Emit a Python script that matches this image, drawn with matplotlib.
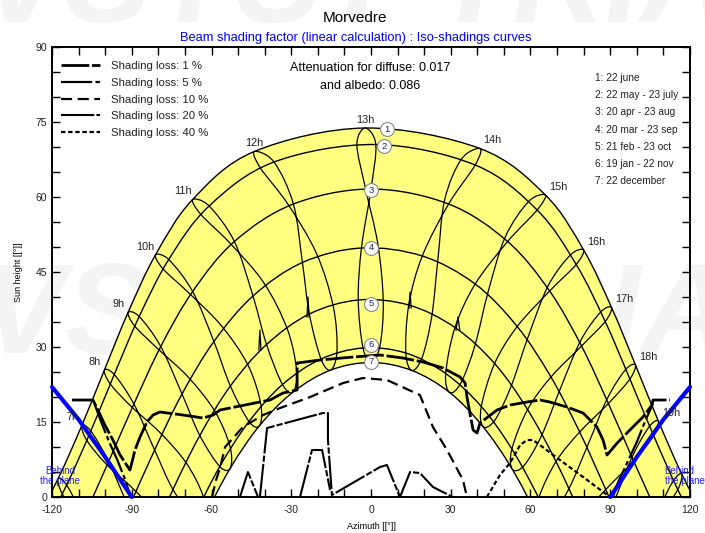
import matplotlib
matplotlib.use('Agg')
import matplotlib.pyplot as plt
import numpy as np
from matplotlib.path import Path
from matplotlib.patches import PathPatch
from matplotlib.lines import Line2D

plt.rcParams['font.family'] = ['Liberation Sans', 'DejaVu Sans']
plt.rcParams['axes.unicode_minus'] = False

# --- sun paths (legal time, lat 39.7 N) ---
date_names = ['22jun', '22may', '23jul', '20apr', '23aug', '20mar', '23sep',
              '21feb', '23oct', '19jan', '22nov', '22dec']
hours = [5, 6, 7, 8, 9, 10, 11, 12, 13, 14, 15, 16, 17, 18, 19, 20]
sun_az = [
    [-127.5, -124.3, -126.2, -118.6, -119.8, -111.6, -109.3, -103.9, -98.5, -93.8, -90.6, -88.9],
    [-117.7, -114.5, -116.2, -108.2, -109.3, -100.8, -98.9, -93.4, -88.6, -84.4, -81.4, -80.0],
    [-108.8, -105.4, -107.0, -98.7, -99.8, -91.1, -89.2, -83.9, -79.2, -75.5, -72.5, -71.5],
    [-100.3, -96.6, -98.2, -89.2, -90.4, -81.4, -79.4, -74.5, -69.5, -66.6, -63.3, -62.6],
    [-91.4, -87.2, -88.9, -79.1, -80.3, -71.1, -68.8, -64.4, -58.8, -56.9, -53.1, -52.9],
    [-81.1, -76.1, -78.2, -67.1, -68.5, -59.1, -56.2, -52.9, -46.3, -45.9, -41.5, -41.9],
    [-67.1, -60.9, -64.0, -51.4, -53.1, -44.4, -40.4, -39.3, -31.5, -33.3, -28.0, -29.3],
    [-43.9, -36.5, -41.6, -29.2, -31.3, -25.8, -20.5, -23.2, -14.2, -18.8, -12.8, -15.1],
    [-2.2, 1.8, -5.3, -0.0, -2.2, -3.6, 2.6, -4.8, 4.6, -3.0, 3.4, 0.2],
    [41.0, 39.2, 33.9, 29.2, 27.7, 19.3, 25.2, 14.2, 22.9, 13.1, 19.3, 15.4],
    [65.6, 62.5, 59.3, 51.4, 50.5, 39.2, 44.1, 31.6, 39.1, 28.1, 33.8, 29.6],
    [80.0, 77.2, 75.0, 67.2, 66.6, 55.0, 59.1, 46.5, 52.6, 41.5, 46.5, 42.1],
    [90.5, 88.1, 86.4, 79.2, 78.8, 67.7, 71.1, 58.9, 64.1, 53.0, 57.4, 53.1],
    [99.5, 97.4, 95.8, 89.3, 88.9, 78.5, 81.5, 69.6, 74.2, 63.1, 67.2, 62.8],
    [108.1, 106.3, 104.7, 98.8, 98.4, 88.3, 91.2, 79.3, 83.6, 72.3, 76.1, 71.6],
    [116.9, 115.4, 113.7, 108.3, 107.8, 97.9, 100.9, 88.8, 93.1, 81.2, 85.0, 80.2],
]
sun_h = [
    [-6.1, -7.7, -9.2, -14.8, -14.9, -24.7, -21.2, -32.8, -27.2, -37.9, -33.0, -37.2],
    [3.7, 2.4, 0.7, -4.1, -4.5, -13.6, -10.0, -21.4, -15.7, -26.3, -21.5, -25.7],
    [14.3, 13.2, 11.4, 7.1, 6.7, -2.1, 1.5, -9.8, -4.2, -15.0, -10.3, -14.6],
    [25.4, 24.5, 22.7, 18.6, 18.2, 9.4, 12.9, 1.5, 6.8, -4.1, 0.4, -4.0],
    [36.9, 36.1, 34.2, 30.1, 29.7, 20.6, 24.0, 12.3, 17.2, 6.1, 10.2, 5.8],
    [48.4, 47.5, 45.6, 41.1, 40.8, 31.1, 34.2, 22.2, 26.4, 15.1, 18.7, 14.3],
    [59.5, 58.2, 56.5, 51.1, 50.8, 40.2, 42.9, 30.5, 33.6, 22.5, 25.3, 21.0],
    [69.1, 67.0, 65.8, 58.6, 58.6, 46.9, 48.7, 36.6, 38.1, 27.6, 29.3, 25.4],
    [73.8, 70.5, 70.5, 61.6, 62.0, 49.8, 50.5, 39.4, 39.1, 29.8, 30.3, 26.9],
    [69.7, 66.4, 67.5, 58.6, 59.4, 48.2, 47.7, 38.4, 36.3, 28.8, 28.0, 25.3],
    [60.4, 57.4, 59.1, 51.1, 52.0, 42.6, 41.1, 33.9, 30.3, 24.7, 22.8, 20.9],
    [49.4, 46.5, 48.4, 41.2, 42.2, 34.1, 32.0, 26.7, 22.0, 18.1, 15.3, 14.1],
    [37.9, 35.1, 37.0, 30.2, 31.2, 24.0, 21.5, 17.5, 12.2, 9.6, 6.2, 5.6],
    [26.4, 23.6, 25.5, 18.7, 19.7, 13.0, 10.3, 7.1, 1.4, -0.2, -4.0, -4.2],
    [15.2, 12.3, 14.1, 7.2, 8.2, 1.5, -1.2, -4.0, -10.0, -10.8, -14.9, -14.8],
    [4.6, 1.5, 3.2, -4.0, -3.1, -10.0, -12.7, -15.4, -21.5, -22.1, -26.3, -26.0],
]
# 21h points (below horizon) for the two longest days
late_az = {'22jun': 126.6, '22may': 125.1}
late_h = {'22jun': -5.2, '22may': -8.6}

curve_dates = ['22jun', '22may', '20apr', '20mar', '21feb', '19jan', '22dec']
loop_order = ['22jun', '23jul', '23aug', '23sep', '23oct', '22nov', '22dec',
              '19jan', '21feb', '20mar', '20apr', '22may']
label_hours = [7, 8, 9, 10, 11, 12, 13, 14, 15, 16, 17, 18, 19]
date_legend = ['1: 22 june', '2: 22 may - 23 july', '3: 20 apr - 23 aug',
               '4: 20 mar - 23 sep', '5: 21 feb - 23 oct', '6: 19 jan - 22 nov',
               '7: 22 december']
marker_az = [6.0, 5.0, 0.0, 0.0, 0.0, 0.0, 0.0]
marker_h = [73.6, 70.2, 61.4, 49.9, 38.7, 30.5, 27.1]

# --- iso-shading curves (azimuth, height) ---
loss1_az = [-112.5, -104.6, -103.1, -100.1, -97.1, -94.4, -90.7, -89.9, -88.8, -86.9, -84.3,
            -82.0, -79.4, -70.7, -63.2, -59.4, -56.8, -41.8, -38.0, -33.1, -27.8, -27.8,
            -19.2, -6.8, 3.4, 12.0, 19.6, 27.1, 33.5, 35.4, 36.1, 37.2, 38.4, 39.9, 41.0,
            47.4, 52.3, 58.7, 63.6, 67.3, 73.7, 79.8, 85.0, 87.3, 88.8, 92.6, 97.4, 102.3,
            105.7, 106.1, 112.5]
loss1_h = [19.4, 19.4, 17.8, 14.4, 11.4, 8.4, 5.4, 7.0, 9.4, 12.0, 15.0,
           16.4, 17.0, 16.4, 15.8, 16.4, 17.4, 19.0, 19.4, 20.8, 21.4, 26.8,
           27.4, 28.0, 28.4, 27.8, 27.0, 25.8, 24.0, 22.8, 20.0, 16.8, 13.4, 12.8, 14.8,
           17.4, 18.4, 19.0, 19.4, 19.0, 18.0, 16.8, 14.0, 11.4, 8.4, 10.8, 13.4, 16.0,
           18.4, 19.4, 19.4]
loss5_az = [-104.0, -101.5, -98.5, -95.5, -92.5, -90.5, np.nan, 91.0, 93.0, 96.5, 100.0, 103.0, 106.0]
loss5_h = [18.6, 15.0, 11.0, 7.5, 3.5, 0.0, np.nan, 0.0, 3.0, 7.0, 11.0, 15.0, 18.6]
loss10_az = [-59.8, -58.3, -56.8, -54.9, -48.2, -40.6, -34.2, -22.9, -10.5, -3.0, 6.0,
             18.4, 20.7, 23.3, 28.6, 34.6, 36.1]
loss10_h = [0.0, 3.4, 5.8, 10.0, 14.0, 16.4, 17.8, 20.0, 22.8, 23.8, 23.4,
            20.4, 17.4, 14.0, 9.4, 3.4, 0.0]
loss20_az = [-49.3, -46.3, -42.5, np.nan, -41.8, -39.1, -18.1, -16.2, -16.2, -14.7, 3.4, 6.0,
             10.9, 14.7, 18.4, 23.3, 30.8, np.nan, -26.7, -22.2, -18.4, -15.4]
loss20_h = [0.0, 5.0, 0.0, np.nan, 0.0, 13.8, 16.8, 16.8, 11.4, 0.4, 6.0, 6.4,
            0.0, 5.0, 4.8, 2.0, 0.0, np.nan, 0.0, 9.4, 9.4, 1.4]
loss40_az = [43.6, 48.5, 52.3, 56.1, 58.7, 61.0, 71.1, 79.8, 89.9]
loss40_h = [0.0, 4.4, 6.8, 10.4, 11.4, 11.4, 7.4, 4.0, 0.0]
# narrow spikes inside the sun area
spike_az = [-42.2, -41.8, -41.4, np.nan, -24.1, -23.7, -23.3, np.nan,
            14.3, 14.7, 15.1, np.nan, 32.0, 32.7, 33.4]
spike_h = [29.4, 33.4, 29.4, np.nan, 36.0, 40.0, 36.0, np.nan,
           37.8, 41.0, 37.8, np.nan, 33.4, 36.0, 33.4]
loss_labels = ['Shading loss: 1 %', 'Shading loss: 5 %', 'Shading loss: 10 %',
               'Shading loss: 20 %', 'Shading loss: 40 %']

behind_az = [-120, -110, -100, -90]
behind_h = [22.0, 15.5, 8.0, 0.0]

AZ = np.array(sun_az)
HH = np.array(sun_h)


def bezier(pts, closed=False):
    pts = np.asarray(pts, float)
    n = len(pts)
    if closed:
        ext = np.vstack([pts[-1], pts, pts[0], pts[1]])
        nseg = n
    else:
        ext = np.vstack([2 * pts[0] - pts[1], pts, 2 * pts[-1] - pts[-2]])
        nseg = n - 1
    verts = [pts[0]]
    for i in range(nseg):
        p0, p1, p2, p3 = ext[i:i + 4]
        verts += [p1 + (p2 - p0) / 6, p2 - (p3 - p1) / 6, p2]
    return np.array(verts)


def date_points(name):
    j = date_names.index(name)
    pts = list(zip(AZ[:, j], HH[:, j]))
    if name in late_az:
        pts.append((late_az[name], late_h[name]))
    return pts


fig = plt.figure(figsize=(7.05, 5.33), dpi=100)
ax = fig.add_axes([0.0738, 0.0675, 0.9049, 0.8443])
ax.set_xlim(-120, 120)
ax.set_ylim(0, 90)
ax.patch.set_alpha(0)

# trial watermark, behind the axes
for yw in (0.40, 1.02):
    fig.text(0.5, yw, 'PVSYST TRIAL', fontsize=92, fontweight='bold', style='italic',
             color='#f4f4f4', ha='center', va='center', zorder=-5)

# yellow area between 22 june and 22 december
top = bezier(date_points('22jun'))
bot = bezier(date_points('22dec'))[::-1]
verts = np.vstack([top, bot, top[:1]])
codes = ([Path.MOVETO] + [Path.CURVE4] * (len(top) - 1) + [Path.LINETO]
         + [Path.CURVE4] * (len(bot) - 1) + [Path.CLOSEPOLY])
ax.add_patch(PathPatch(Path(verts, codes), facecolor='#ffff80', edgecolor='none', zorder=1))

# date curves
for name in curve_dates:
    v = bezier(date_points(name))
    c = [Path.MOVETO] + [Path.CURVE4] * (len(v) - 1)
    ax.add_patch(PathPatch(Path(v, c), fill=False, edgecolor='black', lw=1.0, zorder=2))

# hour loops
for i, hr in enumerate(hours):
    if hr < 6:
        continue
    idx = [date_names.index(n) for n in loop_order]
    v = bezier(list(zip(AZ[i, idx], HH[i, idx])), closed=True)
    c = [Path.MOVETO] + [Path.CURVE4] * (len(v) - 1)
    ax.add_patch(PathPatch(Path(v, c), fill=False, edgecolor='black', lw=0.9, zorder=2))

# hour labels on the 22 june curve
j0 = date_names.index('22jun')
for hr in label_hours:
    i = hours.index(hr)
    a, h = AZ[i, j0], HH[i, j0]
    dx = -7 if hr < 12 else (0 if hr < 14 else 9)
    ax.annotate(f'{hr}h', (a, h), xytext=(dx, 6), textcoords='offset points',
                ha='center', va='center', fontsize=7.8, color='#222222', zorder=6)

# iso-shading curves
styles = [dict(lw=2.0, dashes=(10, 1.0)),
          dict(lw=1.6, dashes=(14, 1.5, 2, 1.5)),
          dict(lw=1.6, dashes=(5, 2.5)),
          dict(lw=1.5, dashes=(16, 1, 3, 1)),
          dict(lw=1.6, dashes=(2, 1.2))]
series = [(loss1_az, loss1_h), (loss5_az, loss5_h), (loss10_az, loss10_h),
          (loss20_az, loss20_h), (loss40_az, loss40_h)]
for (a, h), st in zip(series, styles):
    ax.plot(a, h, color='black', zorder=3, **st)
ax.plot(spike_az, spike_h, color='black', lw=0.9, zorder=3)

# behind the plane
ax.plot(behind_az, behind_h, color='#0000ff', lw=3, solid_capstyle='round', zorder=4, clip_on=False)
ax.plot([-x for x in behind_az], behind_h, color='#0000ff', lw=3, solid_capstyle='round',
        zorder=4, clip_on=False)
ax.text(-117, 4.2, 'Behind\nthe plane', color='#2020ff', fontsize=7, ha='center',
        va='center', linespacing=1.0, zorder=5, clip_on=False)
ax.text(110.5, 4.2, 'Behind\nthe plane', color='#2020ff', fontsize=7, ha='left',
        va='center', linespacing=1.0, zorder=5, clip_on=False)

# date markers
for k, (a, h) in enumerate(zip(marker_az, marker_h)):
    ax.plot(a, h, 'o', ms=10, mfc='white', mec='#888888', mew=0.8, zorder=6)
    ax.text(a, h, str(k + 1), fontsize=6.8, color='#1f2a6b', ha='center', va='center', zorder=7)

# legends
handles = [Line2D([], [], color='black', **st) for st in styles]
ax.legend(handles, loss_labels, loc='upper left', bbox_to_anchor=(0.014, 0.969),
          frameon=False, fontsize=8.2, handlelength=3.4, handletextpad=1.0,
          labelspacing=0.6, borderpad=0, borderaxespad=0, labelcolor='#222222')
for k, t in enumerate(date_legend):
    fig.text(595 / 705, 1 - (78 + k * 17.2) / 533, t, fontsize=7.3, color='#222222',
             va='center', ha='left')
fig.text(370 / 705, 1 - 68 / 533, 'Attenuation for diffuse: 0.017', fontsize=9,
         ha='center', va='center')
fig.text(370 / 705, 1 - 86 / 533, 'and albedo: 0.086', fontsize=9, ha='center', va='center')

# titles
fig.text(355 / 705, 1 - 18 / 533, 'Morvedre', fontsize=11, ha='center', va='center')
fig.text(356 / 705, 1 - 38 / 533, 'Beam shading factor (linear calculation) : Iso-shadings curves',
         fontsize=9.3, color='#0000ff', ha='center', va='center')

# axes
ax.set_xticks(np.arange(-120, 121, 30))
ax.set_xticks(np.arange(-120, 121, 10), minor=True)
ax.set_yticks(np.arange(0, 91, 15))
ax.set_yticks(np.arange(0, 91, 5), minor=True)
ax.tick_params(which='both', direction='in', top=True, right=True, labelsize=7.5,
               labelcolor='#222222', width=1.0, length=6)
ax.tick_params(axis='x', pad=6)
for s in ax.spines.values():
    s.set_linewidth(1.4)
ax.set_xlabel('Azimuth [[°]]', fontsize=6.5, labelpad=5)
ax.set_ylabel('Sun height [[°]]', fontsize=6.5, labelpad=9)

fig.savefig('out.png', dpi=100)
